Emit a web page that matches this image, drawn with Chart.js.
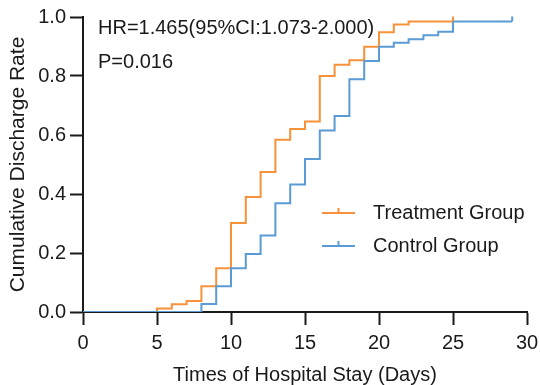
<!DOCTYPE html>
<html>
<head>
<meta charset="utf-8">
<script src="https://cdn.jsdelivr.net/npm/chart.js@4.4.1/dist/chart.umd.min.js"></script>
<style>
  html, body { margin: 0; padding: 0; background: #fff; }
</style>
</head>
<body>
<canvas id="myChart" width="540" height="385"></canvas>
<script>
const FONT = "Arial, 'Liberation Sans', sans-serif";
const ORANGE = '#F7923A';
const BLUE = '#5B9BD5';
const INK = '#1a1a1a';

// step points: day -> cumulative discharge rate
const treatmentDays = [0, 5, 6, 7, 8, 9, 10, 11, 12, 13, 14, 15, 16, 17, 18, 19, 20, 21, 22, 25];
const treatmentRate = [0, 0.012, 0.026, 0.037, 0.087, 0.148, 0.302, 0.39, 0.475, 0.584, 0.62, 0.646, 0.80, 0.838, 0.853, 0.899, 0.948, 0.975, 0.985, 0.985];
const controlDays = [0, 8, 9, 10, 11, 12, 13, 14, 15, 16, 17, 18, 19, 20, 21, 22, 23, 24, 25, 29];
const controlRate = [0, 0.027, 0.087, 0.148, 0.197, 0.259, 0.369, 0.432, 0.519, 0.615, 0.664, 0.789, 0.851, 0.899, 0.913, 0.925, 0.938, 0.95, 0.985, 0.985];
// censored at the end of follow-up
const treatmentCensor = [25];
const controlCensor = [29];

const seriesNames = ['Treatment Group', 'Control Group'];
const statsText = ['HR=1.465(95%CI:1.073-2.000)', 'P=0.016'];
const axisTitles = { x: 'Times of Hospital Stay (Days)', y: 'Cumulative Discharge Rate' };

const toPoints = (days, rate) => days.map((d, i) => ({ x: d, y: rate[i] }));

// small vertical ticks for censored cases
const censorPlugin = {
  id: 'censor',
  afterDatasetsDraw(chart) {
    const ctx = chart.ctx;
    const xs = chart.scales.x, ys = chart.scales.y;
    chart.data.datasets.forEach((ds) => {
      (ds.censor || []).forEach((d) => {
        const pt = ds.data.find(p => p.x === d);
        if (!pt) return;
        const px = xs.getPixelForValue(pt.x);
        const py = ys.getPixelForValue(pt.y);
        ctx.save();
        ctx.strokeStyle = ds.borderColor;
        ctx.lineWidth = 2;
        ctx.beginPath();
        ctx.moveTo(px, py);
        ctx.lineTo(px, py - 5);
        ctx.stroke();
        ctx.restore();
      });
    });
  }
};

// legend inside the plot + HR / P text
const notesPlugin = {
  id: 'notes',
  afterDraw(chart) {
    const ctx = chart.ctx;
    const area = chart.chartArea;
    ctx.save();
    ctx.font = '20px ' + FONT;
    ctx.fillStyle = INK;
    ctx.textBaseline = 'middle';
    ctx.textAlign = 'left';
    ctx.fillText(statsText[0], area.left + 15, area.top + 11);
    ctx.fillText(statsText[1], area.left + 15, area.top + 45);

    const order = [0, 1];
    order.forEach((idx, row) => {
      const ds = chart.data.datasets[idx];
      const y = area.top + 196 + row * 33;
      const x0 = area.left + 239;
      ctx.strokeStyle = ds.borderColor;
      ctx.lineWidth = 2;
      ctx.beginPath();
      ctx.moveTo(x0, y);
      ctx.lineTo(x0 + 33, y);
      ctx.moveTo(x0 + 16.5, y);
      ctx.lineTo(x0 + 16.5, y - 5);
      ctx.stroke();
      ctx.fillStyle = INK;
      ctx.fillText(ds.label, x0 + 51, y);
    });
    ctx.restore();
  }
};

const ctx = document.getElementById('myChart');

const config = {
  type: 'line',
  data: {
    datasets: [
      {
        label: seriesNames[0],
        data: toPoints(treatmentDays, treatmentRate),
        censor: treatmentCensor,
        borderColor: ORANGE,
        borderWidth: 2,
        stepped: 'before',
        pointRadius: 0,
        fill: false,
        order: 1,
      },
      {
        label: seriesNames[1],
        data: toPoints(controlDays, controlRate),
        censor: controlCensor,
        borderColor: BLUE,
        borderWidth: 2,
        stepped: 'before',
        pointRadius: 0,
        fill: false,
        order: 0,
      },
    ]
  },
  options: {
    responsive: false,
    animation: false,
    layout: { padding: { top: 17, right: 13, left: 0, bottom: 0 } },
    plugins: {
      legend: { display: false },
      tooltip: { enabled: false },
    },
    scales: {
      x: {
        type: 'linear',
        min: 0,
        max: 30,
        afterFit: (scale) => {
          scale.height = 73;
          scale.paddingLeft = 0;
          scale.paddingRight = 0;
        },
        ticks: {
          stepSize: 5,
          color: INK,
          font: { family: FONT, size: 20 },
          padding: 6,
          maxRotation: 0,
        },
        grid: {
          drawOnChartArea: false,
          drawTicks: true,
          tickLength: 13,
          tickWidth: 2,
          tickColor: INK,
        },
        border: { display: true, color: INK, width: 2 },
        title: {
          display: true,
          text: axisTitles.x,
          color: INK,
          font: { family: FONT, size: 20, lineHeight: 1 },
          padding: { top: 0, bottom: 0 },
        },
      },
      y: {
        min: 0,
        max: 1,
        afterFit: (scale) => { scale.width = 83; },
        ticks: {
          stepSize: 0.2,
          color: INK,
          font: { family: FONT, size: 20 },
          padding: 4,
          callback: (v) => Number(v).toFixed(1),
        },
        grid: {
          drawOnChartArea: false,
          drawTicks: true,
          tickLength: 13,
          tickWidth: 2,
          tickColor: INK,
        },
        border: { display: true, color: INK, width: 2 },
        title: {
          display: true,
          text: axisTitles.y,
          color: INK,
          font: { family: FONT, size: 21, lineHeight: 1 },
          padding: { top: 8, bottom: 0 },
        },
      },
    },
  },
  plugins: [censorPlugin, notesPlugin],
};

let myChart = new Chart(ctx, config);
</script>
</body>
</html>
